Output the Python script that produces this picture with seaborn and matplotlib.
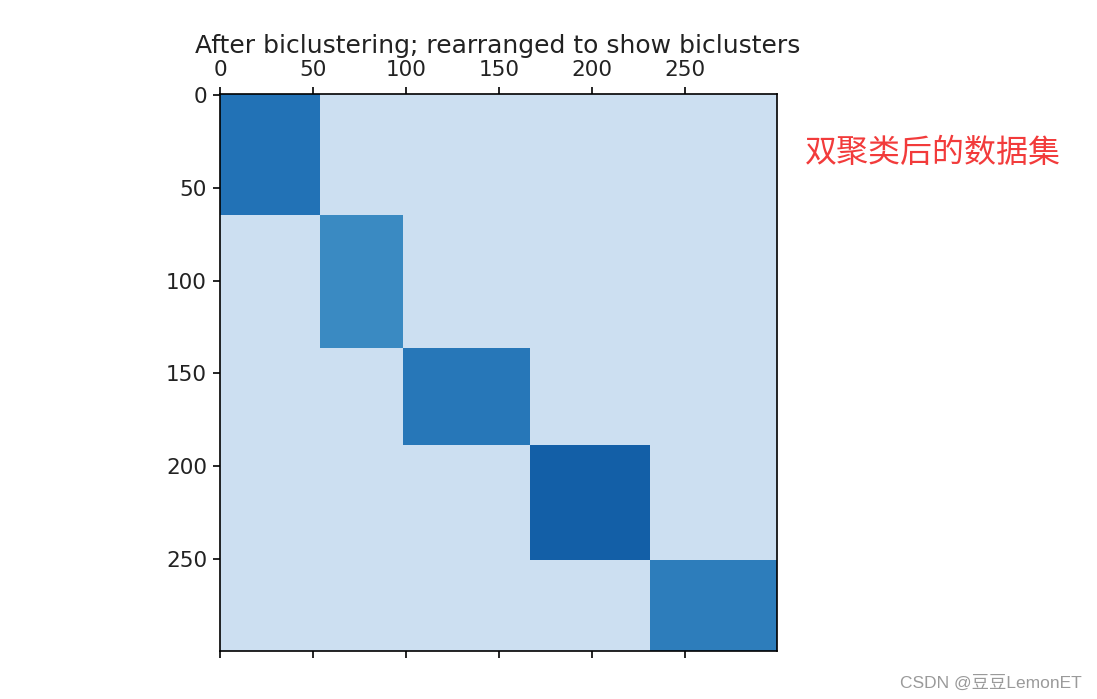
import numpy as np
import pandas as pd
import matplotlib
matplotlib.use("Agg")
import matplotlib.pyplot as plt
import seaborn as sns

# ---- data ----
row_sizes = [65, 72, 52, 62, 49]          # rows in each bicluster (top to bottom)
col_sizes = [54, 45, 68, 65, 68]          # columns in each bicluster (left to right)
block_levels = [0.745, 0.655, 0.725, 0.82, 0.705]   # colour level of each bicluster
background_level = 0.22                   # level outside the biclusters
tick_values = [0, 50, 100, 150, 200, 250]
title = "After biclustering; rearranged to show biclusters"
note = "双聚类后的数据集"
watermark = "CSDN @豆豆LemonET"

# build the matrix from the block description
data = np.full((sum(row_sizes), sum(col_sizes)), background_level)
r0 = c0 = 0
for rs, cs, lv in zip(row_sizes, col_sizes, block_levels):
    data[r0:r0 + rs, c0:c0 + cs] = lv
    r0 += rs
    c0 += cs
df = pd.DataFrame(data)

sns.set_style("ticks")
plt.rcParams["font.family"] = ["DejaVu Sans"]

fig = plt.figure(figsize=(10.97, 6.99), dpi=100)
ax = fig.add_axes([0.2001, 0.0687, 0.508, 0.797])
sns.heatmap(df, cmap="Blues", vmin=0, vmax=1, cbar=False, ax=ax,
            xticklabels=False, yticklabels=False)

ax.set_xticks(np.array(tick_values) + 0.5)
ax.set_xticklabels([str(t) for t in tick_values])
ax.set_yticks(np.array(tick_values) + 0.5)
ax.set_yticklabels([str(t) for t in tick_values], rotation=0)
ax.tick_params(axis="x", top=True, bottom=True, labeltop=True, labelbottom=False,
               length=5, width=1.2, color="black", labelsize=15.5,
               labelcolor="#222222", pad=5)
ax.tick_params(axis="y", left=True, length=5, width=1.2, color="black",
               labelsize=15.5, labelcolor="#222222", pad=4)
ax.set_xlabel("")
ax.set_ylabel("")
for sp in ax.spines.values():
    sp.set_visible(True)
    sp.set_color("black")
    sp.set_linewidth(1.2)

ax.set_title(title, fontsize=18, color="#222222", pad=5)

fig.text(805 / 1097, 1 - 153 / 699, note, ha="left", va="center",
         color="#f23b3b", fontsize=23, family=["Noto Sans CJK SC", "DejaVu Sans"])
fig.text(1082 / 1097, 1 - 683 / 699, watermark, ha="right", va="center",
         color="#9a9a9a", fontsize=12.5,
         family=["Liberation Sans", "Noto Sans CJK SC", "DejaVu Sans"])

fig.savefig("out.png", dpi=100)
